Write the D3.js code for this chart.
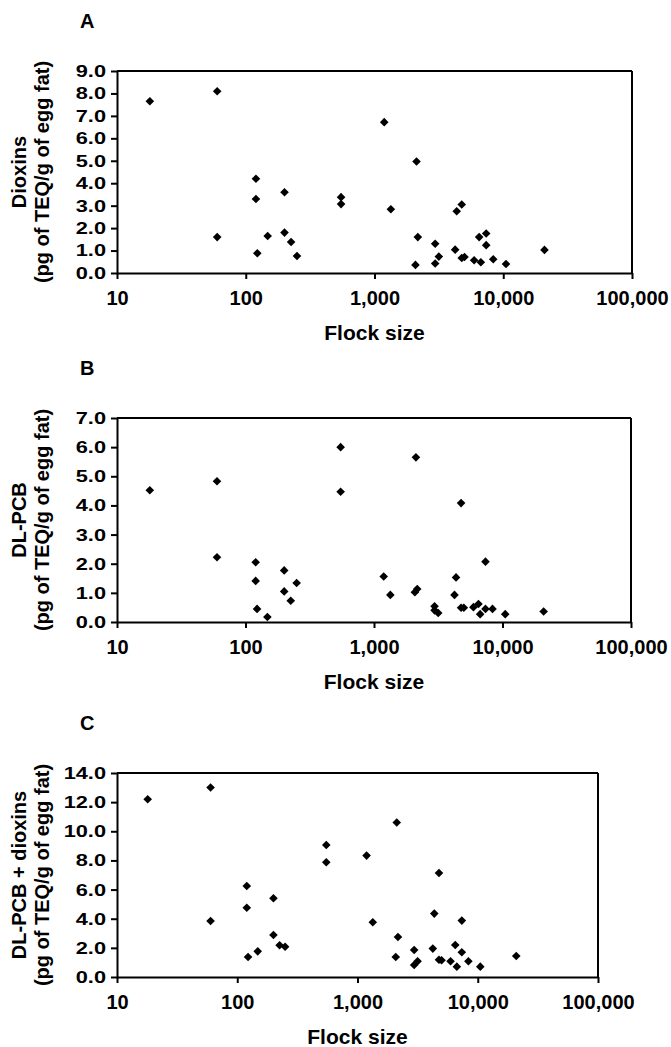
<!DOCTYPE html>
<html>
<head>
<meta charset="utf-8">
<style>
  body { margin: 0; background: #fff; }
  text { font-family: 'Liberation Sans', Arial, sans-serif; font-weight: bold; fill: #000; }
  .axis path, .axis line { stroke: #000; stroke-width: 2; }
  .axis text { font-size: 20px; }
  .y-axis text { font-size: 17px; }
  .frame { stroke: #000; stroke-width: 2; }
</style>
</head>
<body>
<div id="chart"></div>
<script src="https://cdn.jsdelivr.net/npm/d3@7"></script>
<script>
// flock sizes (same farms in all three panels)
var flockSize = [18, 60, 60, 120, 120, 123, 148, 200, 200, 225, 250, 550, 550, 1190, 1340,
  2120, 2170, 2080, 2960, 2960, 3160, 4350, 4760, 4230, 4760, 5000, 5940, 6700, 6500,
  7370, 7370, 8360, 10500, 20900]

// pg of TEQ/g of egg fat
var dioxins = [7.65, 8.1, 1.6, 4.2, 3.3, 0.88, 1.65, 3.6, 1.8, 1.38, 0.76, 3.38, 3.07, 6.72, 2.84,
  4.97, 1.6, 0.36, 1.3, 0.42, 0.73, 2.75, 3.05, 1.04, 0.67, 0.71, 0.57, 0.48, 1.6,
  1.76, 1.24, 0.61, 0.4, 1.03]
var dlPcb = [4.52, 4.83, 2.22, 2.05, 1.41, 0.45, 0.17, 1.77, 1.05, 0.73, 1.34, 6.0, 4.47, 1.56, 0.93,
  5.65, 1.13, 1.02, 0.54, 0.4, 0.31, 1.53, 4.08, 0.93, 0.49, 0.49, 0.51, 0.27, 0.62,
  2.07, 0.45, 0.45, 0.27, 0.36]
var dlPcbDioxins = [12.2, 13.0, 3.84, 6.25, 4.75, 1.37, 1.76, 5.4, 2.88, 2.18, 2.08, 9.06, 7.87, 8.33, 3.76,
  10.6, 2.75, 1.37, 1.85, 0.82, 1.08, 4.35, 7.14, 1.95, 1.18, 1.15, 1.08, 0.71, 2.2,
  3.87, 1.7, 1.08, 0.71, 1.44]

var xTicks = [10, 100, 1000, 10000, 100000]
var yTicksA = [0, 1, 2, 3, 4, 5, 6, 7, 8, 9]
var yTicksB = [0, 1, 2, 3, 4, 5, 6, 7]
var yTicksC = [0, 2, 4, 6, 8, 10, 12, 14]

var unitLabel = '(pg of TEQ/g of egg fat)'

var panels = [
  { letter: 'A', values: dioxins, ticks: yTicksA, title: 'Dioxins', left: 117, right: 632, top: 71, bottom: 273 },
  { letter: 'B', values: dlPcb, ticks: yTicksB, title: 'DL-PCB', left: 117, right: 631, top: 418, bottom: 622 },
  { letter: 'C', values: dlPcbDioxins, ticks: yTicksC, title: 'DL-PCB + dioxins', left: 117, right: 598, top: 773, bottom: 977 }
]

// y tick labels in the original are wider than they are tall
var yStretch = 1.28

var svg = d3
  .select('#chart')
  .append('svg')
  .attr('width', 671)
  .attr('height', 1047)

panels.forEach(function(p) {
  var xPositionScale = d3
    .scaleLog()
    .domain([10, 100000])
    .range([p.left, p.right])
  var yPositionScale = d3
    .scaleLinear()
    .domain([0, d3.max(p.ticks)])
    .range([p.bottom, p.top])

  var g = svg.append('g')

  // panel letter
  g.append('text')
    .attr('x', 80)
    .attr('y', p.top - 43)
    .attr('font-size', 20)
    .text(p.letter)

  // box top and right
  g.append('line')
    .attr('class', 'frame')
    .attr('x1', p.left)
    .attr('x2', p.right)
    .attr('y1', p.top)
    .attr('y2', p.top)
  g.append('line')
    .attr('class', 'frame')
    .attr('x1', p.right)
    .attr('x2', p.right)
    .attr('y1', p.top)
    .attr('y2', p.bottom)

  var xAxis = d3
    .axisBottom(xPositionScale)
    .tickValues(xTicks)
    .tickFormat(d3.format(','))
    .tickSize(6)
    .tickSizeOuter(0)
    .tickPadding(12)
  g.append('g')
    .attr('class', 'axis x-axis')
    .attr('transform', 'translate(0,' + p.bottom + ')')
    .call(xAxis)

  var yAxis = d3
    .axisLeft(yPositionScale)
    .tickValues(p.ticks)
    .tickFormat(d3.format('.1f'))
    .tickSize(6)
    .tickSizeOuter(0)
    .tickPadding(5)
  g.append('g')
    .attr('class', 'axis y-axis')
    .attr('transform', 'translate(' + p.left + ',0)')
    .call(yAxis)
    .selectAll('.tick text')
    .attr('x', -11 / yStretch)
    .attr('transform', 'scale(' + yStretch + ',1)')

  // axis titles
  g.append('text')
    .attr('x', (p.left + p.right) / 2)
    .attr('y', p.bottom + 67)
    .attr('text-anchor', 'middle')
    .attr('font-size', 21)
    .text('Flock size')

  var midY = (p.top + p.bottom) / 2
  g.append('text')
    .attr('transform', 'translate(26,' + midY + ') rotate(-90)')
    .attr('text-anchor', 'middle')
    .attr('font-size', 20)
    .text(p.title)
  g.append('text')
    .attr('transform', 'translate(49,' + midY + ') rotate(-90)')
    .attr('text-anchor', 'middle')
    .attr('font-size', 20)
    .text(unitLabel)

  // diamonds
  g.selectAll('.dot')
    .data(flockSize)
    .enter()
    .append('path')
    .attr('class', 'dot')
    .attr('d', 'M0,-4.3L4.3,0L0,4.3L-4.3,0Z')
    .attr('transform', function(d, i) {
      return 'translate(' + xPositionScale(d) + ',' + yPositionScale(p.values[i]) + ')'
    })
    .attr('fill', '#000')
})
</script>
</body>
</html>
